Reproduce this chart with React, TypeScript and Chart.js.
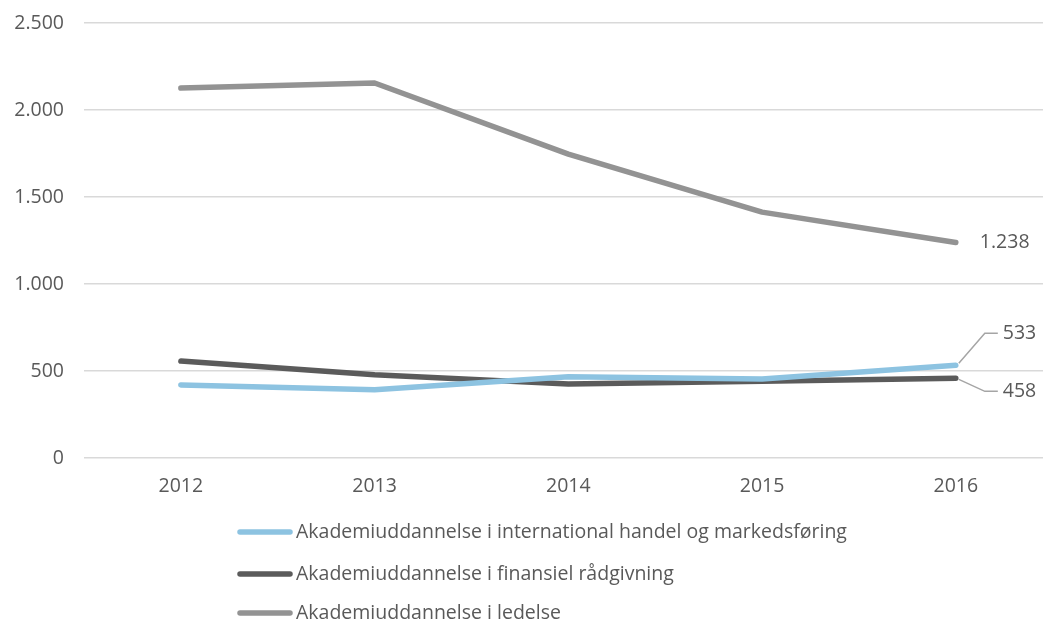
import React, { useEffect, useRef } from "react";
import { Chart, registerables } from "chart.js";

Chart.register(...registerables);

const years = [2012, 2013, 2014, 2015, 2016];
const seriesNames = [
  "Akademiuddannelse i international handel og markedsføring",
  "Akademiuddannelse i finansiel rådgivning",
  "Akademiuddannelse i ledelse",
];
const internationalValues = [420, 392, 467, 454, 533];
const finansielValues = [557, 478, 425, 441, 458];
const ledelseValues = [2126, 2155, 1746, 1413, 1238];
const yTicks = [0, 500, 1000, 1500, 2000, 2500];

const colors = ["#8DC3E1", "#5B5B5B", "#939393"];
const FONT = "'Open Sans', 'Noto Sans', sans-serif";
const TEXT = "#595959";
const FS = 19.5;

const fmt = (v: number) => v.toLocaleString("da-DK");

const overlayPlugin = {
  id: "overlay",
  afterDraw(chart: any) {
    const ctx = chart.ctx;
    ctx.save();
    ctx.font = `${FS}px ${FONT}`;
    ctx.fillStyle = TEXT;
    ctx.textBaseline = "middle";
    ctx.textAlign = "left";
    const last = years.length - 1;
    const pL = chart.getDatasetMeta(2).data[last];
    const pI = chart.getDatasetMeta(0).data[last];
    const pF = chart.getDatasetMeta(1).data[last];
    ctx.fillText(fmt(ledelseValues[last]), pL.x + 24, pL.y);

    ctx.strokeStyle = "#A5A5A5";
    ctx.lineWidth = 1.5;
    const upY = pI.y - 32;
    ctx.beginPath();
    ctx.moveTo(pI.x + 3, pI.y - 2);
    ctx.lineTo(pI.x + 29, upY);
    ctx.lineTo(pI.x + 42, upY);
    ctx.stroke();
    ctx.fillText(fmt(internationalValues[last]), pI.x + 47, upY);

    const dnY = pF.y + 13;
    ctx.beginPath();
    ctx.moveTo(pF.x + 3, pF.y + 1);
    ctx.lineTo(pF.x + 29, dnY);
    ctx.lineTo(pF.x + 42, dnY);
    ctx.stroke();
    ctx.fillText(fmt(finansielValues[last]), pF.x + 47, dnY);

    // legend
    const lx = 238;
    const rows = [532, 574, 613];
    chart.data.datasets.forEach((ds: any, i: number) => {
      const y = rows[i];
      ctx.strokeStyle = ds.borderColor;
      ctx.lineWidth = 5.5;
      ctx.lineCap = "round";
      ctx.beginPath();
      ctx.moveTo(lx + 2, y);
      ctx.lineTo(lx + 52, y);
      ctx.stroke();
      ctx.fillStyle = TEXT;
      ctx.fillText(ds.label, lx + 58, y);
    });
    ctx.restore();
  },
};

export default function App() {
  const ref = useRef<HTMLCanvasElement>(null);
  useEffect(() => {
    document.body.style.margin = "0";
    const toPts = (vals: number[]) => years.map((x, i) => ({ x, y: vals[i] }));
    const allVals = [internationalValues, finansielValues, ledelseValues];
    const chart = new Chart(ref.current!, {
      type: "line",
      data: {
        datasets: allVals.map((vals, i) => ({
          label: seriesNames[i],
          data: toPts(vals),
          borderColor: colors[i],
          backgroundColor: colors[i],
          borderWidth: 5.5,
          borderCapStyle: "round",
          borderJoinStyle: "round",
          pointRadius: 0,
          tension: 0,
        })),
      },
      options: {
        animation: false,
        responsive: false,
        layout: { padding: { top: 23, left: 0, right: 0, bottom: 115 } },
        plugins: { legend: { display: false }, tooltip: { enabled: false } },
        scales: {
          x: {
            type: "linear",
            min: 2011.5,
            max: 2016.45,
            afterBuildTicks: (s: any) => {
              s.ticks = years.map((v) => ({ value: v }));
            },
            afterFit: (s: any) => {
              s.height = 50;
              s.paddingLeft = 0;
              s.paddingRight = 0;
            },
            grid: { display: false, drawTicks: false },
            border: { display: false },
            ticks: {
              color: TEXT,
              font: { family: FONT, size: FS },
              padding: 17,
              callback: (v: any) => String(v),
            },
          },
          y: {
            min: 0,
            max: 2500,
            afterBuildTicks: (s: any) => {
              s.ticks = yTicks.map((v) => ({ value: v }));
            },
            afterFit: (s: any) => {
              s.width = 84;
              s.paddingTop = 0;
              s.paddingBottom = 0;
            },
            grid: { color: "#D9D9D9", lineWidth: 1.5, drawTicks: false },
            border: { display: false },
            ticks: {
              color: TEXT,
              font: { family: FONT, size: FS },
              padding: 20,
              callback: (v: any) => fmt(Number(v)),
            },
          },
        },
      },
      plugins: [overlayPlugin],
    } as any);
    return () => chart.destroy();
  }, []);
  return (
    <div style={{ position: "absolute", left: 0, top: 0, width: 1043, height: 623, background: "#fff" }}>
      <canvas ref={ref} width={1043} height={623} style={{ width: 1043, height: 623, display: "block" }} />
    </div>
  );
}
